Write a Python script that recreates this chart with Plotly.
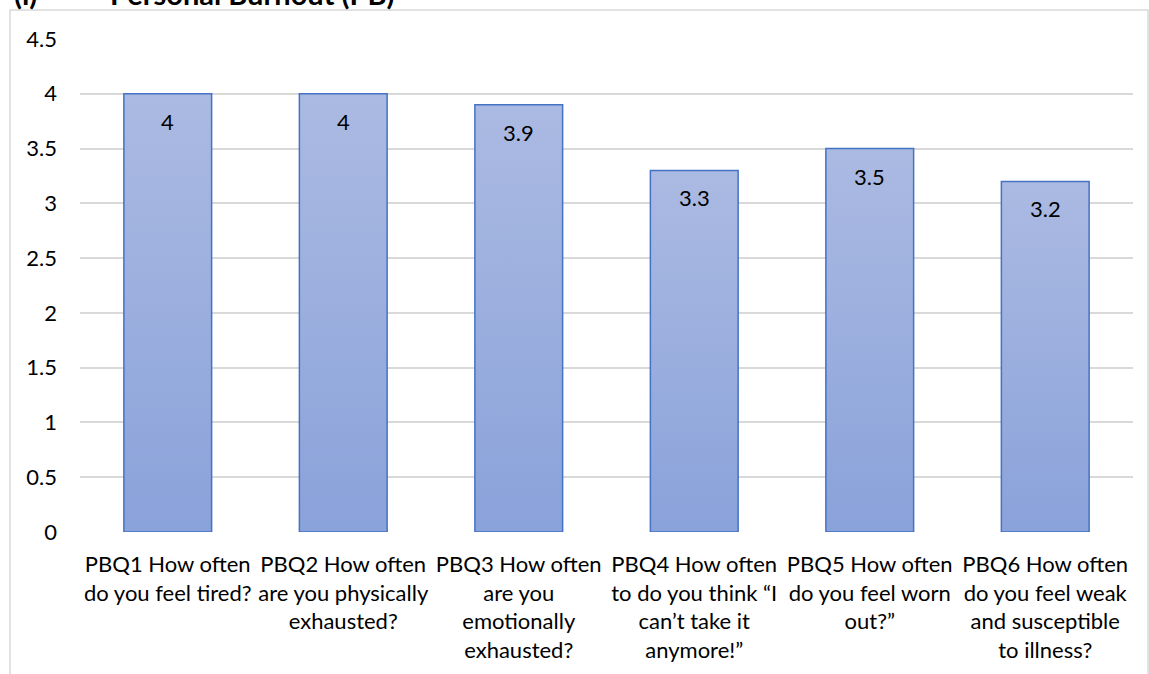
import plotly.graph_objects as go

# Survey items and mean scores
categories = [
    "PBQ1 How often<br>do you feel tired?",
    "PBQ2 How often<br>are you physically<br>exhausted?",
    "PBQ3 How often<br>are you<br>emotionally<br>exhausted?",
    "PBQ4 How often<br>to do you think \u201cI<br>can\u2019t take it<br>anymore!\u201d",
    "PBQ5 How often<br>do you feel worn<br>out?\u201d",
    "PBQ6 How often<br>do you feel weak<br>and susceptible<br>to illness?",
]
scores = [4, 4, 3.9, 3.3, 3.5, 3.2]
score_labels = ["4", "4", "3.9", "3.3", "3.5", "3.2"]
y_ticks = [0, 0.5, 1, 1.5, 2, 2.5, 3, 3.5, 4, 4.5]
y_ticklabels = ["0", "0.5", "1", "1.5", "2", "2.5", "3", "3.5", "4", "4.5"]

FONT = "Lato"
BAR_W = 0.5
TOP_C = "#abbae2"
BOT_C = "#8aa2da"
EDGE_C = "#4472C4"

W, H = 1149, 674
ML, MR, MT, MB = 80, 16, 39, 142
pw, ph = W - ML - MR, H - MT - MB


def px_x(p):
    return (p - ML) / pw


def px_y(p):
    return (H - MB - p) / ph


fig = go.Figure()

# Each bar as a filled rectangle with a vertical gradient
for i, v in enumerate(scores):
    x0, x1 = i - BAR_W / 2, i + BAR_W / 2
    fig.add_trace(go.Scatter(
        x=[x0, x1, x1, x0, x0],
        y=[0, 0, v, v, 0],
        mode="lines",
        fill="toself",
        fillgradient=dict(
            type="vertical",
            colorscale=[[0, BOT_C], [1, TOP_C]],
            start=0,
            stop=v,
        ),
        line=dict(color=EDGE_C, width=1.5),
        hoverinfo="skip",
        showlegend=False,
    ))

# Value labels just inside the top of each bar
for i, (v, t) in enumerate(zip(scores, score_labels)):
    fig.add_annotation(
        x=i, y=v, text=t, showarrow=False,
        yanchor="top", yshift=-12,
        font=dict(family=FONT, size=22, color="#000000"),
    )

# Heading
fig.add_annotation(
    xref="paper", yref="paper", x=px_x(12), y=px_y(13),
    xanchor="left", yanchor="bottom", showarrow=False,
    text="<b>(i)</b>", font=dict(family=FONT, size=29, color="#000000"),
)
fig.add_annotation(
    xref="paper", yref="paper", x=px_x(108), y=px_y(13),
    xanchor="left", yanchor="bottom", showarrow=False,
    text="<b>Personal Burnout (PB)</b>", font=dict(family=FONT, size=29, color="#000000"),
)

# Chart frame
fig.add_shape(
    type="rect", xref="paper", yref="paper",
    x0=px_x(10), x1=px_x(1148), y0=px_y(690), y1=px_y(10),
    line=dict(color="#d9d9d9", width=1.5), fillcolor="rgba(0,0,0,0)",
    layer="below",
)

fig.update_layout(
    width=W, height=H,
    margin=dict(l=ML, r=MR, t=MT, b=MB),
    paper_bgcolor="white", plot_bgcolor="white",
    font=dict(family=FONT, size=22, color="#000000"),
    showlegend=False,
)
fig.update_xaxes(
    range=[-0.5, len(scores) - 0.5],
    tickvals=list(range(len(categories))),
    ticktext=categories,
    tickangle=0,
    showgrid=False, zeroline=False, showline=False,
    ticks="", ticklabelstandoff=17,
    tickfont=dict(family=FONT, size=22, color="#000000"),
)
fig.update_yaxes(
    range=[0, 4.5],
    tickvals=y_ticks, ticktext=y_ticklabels,
    showgrid=True, gridcolor="#d9d9d9", gridwidth=1.5,
    zeroline=False, showline=False,
    ticks="", ticklabelstandoff=22,
    tickfont=dict(family=FONT, size=22, color="#000000"),
)

fig.write_html("out.html")
